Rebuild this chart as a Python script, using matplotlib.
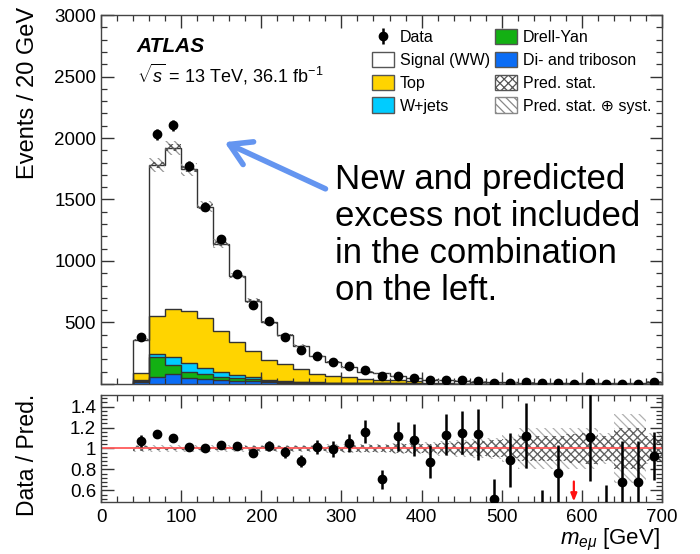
import numpy as np
import matplotlib
matplotlib.use('Agg')
import matplotlib.pyplot as plt
from matplotlib.patches import Patch, FancyArrowPatch
from matplotlib.ticker import MultipleLocator, FixedLocator, FuncFormatter

plt.rcParams['font.family'] = ['Liberation Sans', 'DejaVu Sans']
plt.rcParams['mathtext.fontset'] = 'custom'
plt.rcParams['mathtext.rm'] = 'Liberation Sans'
plt.rcParams['mathtext.it'] = 'Liberation Sans:italic'
plt.rcParams['mathtext.bf'] = 'Liberation Sans:bold'
plt.rcParams['hatch.linewidth'] = 0.9

# ---------------- data ----------------
bin_edges = np.arange(40, 701, 20)          # m_emu bins [GeV]
centers = 0.5 * (bin_edges[:-1] + bin_edges[1:])

diboson = [18, 60, 85, 46, 42, 33, 27, 23, 15, 12, 10, 8, 7, 6, 5, 4, 3.5, 3,
           1.5, 1.3, 1.2, 1.0, 0.9, 0.8, 0.7, 0.6, 0.6, 0.5, 0.4, 0.4, 0.3, 0.3, 1.0]
drellyan = [10, 156, 66, 51, 42, 27, 23, 19, 6, 5, 4, 3, 2, 1.5, 1.2, 1, 0.8, 0.7,
            0.3, 0.3, 0.2, 0.2, 0.2, 0.1, 0.1, 0.1, 0.1, 0.1, 0.1, 0.1, 0.1, 0.1, 0.2]
wjets = [2, 27, 65, 72, 46, 39, 24, 16, 9, 6, 4, 3, 2, 2, 1.5, 1.2, 1, 0.8,
         0.3, 0.3, 0.2, 0.2, 0.2, 0.1, 0.1, 0.1, 0.1, 0.1, 0.1, 0.1, 0.1, 0.1, 0.2]
top = [60, 306, 390, 427, 406, 329, 268, 213, 169, 141, 105, 69, 52, 45, 34, 30, 23, 21,
       2.5, 2.2, 2.0, 1.6, 1.4, 1.2, 1.0, 0.9, 0.9, 0.7, 0.6, 0.5, 0.4, 0.4, 1.5]
signal = [270, 1231, 1314, 1151, 905, 714, 534, 405, 301, 231, 189, 142, 118, 84.5, 57.3,
          51.8, 32.7, 22.5, 30.9, 25.9, 24.2, 16.4, 12.6, 11.3, 9.7, 8.3, 8.8, 5.6, 5.1,
          4.1, 3.5, 3.5, 15.4]
data = [386, 2030, 2103, 1773, 1441, 1177, 895, 644, 512, 380, 275, 228, 180, 146, 115,
        62, 68, 52, 31, 34, 32, 22, 8, 12, 13, 4, 8, 0, 7, 2, 3, 3, 17]
# relative uncertainty of the prediction (half-widths)
rel_stat = [0.02, 0.015, 0.015, 0.015, 0.015, 0.015, 0.015, 0.02, 0.02, 0.02, 0.02, 0.025,
            0.025, 0.03, 0.03, 0.035, 0.04, 0.04, 0.045, 0.05, 0.06, 0.07, 0.08, 0.09, 0.12,
            0.12, 0.12, 0.14, 0.15, 0.12, 0.2, 0.2, 0.12]
rel_syst = [0.035, 0.03, 0.03, 0.03, 0.03, 0.03, 0.03, 0.03, 0.03, 0.035, 0.035, 0.035,
            0.04, 0.04, 0.04, 0.045, 0.05, 0.05, 0.06, 0.07, 0.08, 0.09, 0.1, 0.13, 0.2,
            0.2, 0.2, 0.2, 0.2, 0.15, 0.33, 0.33, 0.15]

components = [  # bottom to top
    ("Di- and triboson", diboson, "#0a6cf5"),
    ("Drell-Yan", drellyan, "#13b013"),
    ("W+jets", wjets, "#00ccff"),
    ("Top", top, "#ffd400"),
    ("Signal (WW)", signal, "#ffffff"),
]

total = np.sum([np.asarray(c[1], float) for c in components], axis=0)
data_arr = np.asarray(data, float)
stat = np.asarray(rel_stat)
syst = np.asarray(rel_syst)

# ---------------- figure ----------------
fig = plt.figure(figsize=(7.0, 5.54), dpi=100)
ax = fig.add_axes([0.1443, 0.3069, 0.8014, 0.6660])
ax2 = fig.add_axes([0.1443, 0.0939, 0.8014, 0.1931])

edge_col = '#333333'
cum = np.zeros(len(centers))
for name, vals, col in components:
    v = np.asarray(vals, float)
    ax.stairs(cum + v, bin_edges, baseline=cum.copy(), fill=True, color=col, zorder=1)
    cum = cum + v
cum = np.zeros(len(centers))
for name, vals, col in components:
    cum = cum + np.asarray(vals, float)
    ax.stairs(cum, bin_edges, baseline=0, color=edge_col, lw=1.0, zorder=2)

# prediction bands in main panel
ax.bar(centers, 2 * total * syst, bottom=total * (1 - syst), width=20,
       facecolor='none', edgecolor='#999999', linewidth=0, hatch='\\\\\\\\', zorder=2.2)
ax.bar(centers, 2 * total * stat, bottom=total * (1 - stat), width=20,
       facecolor='none', edgecolor='#555555', linewidth=0, hatch='xxxx', zorder=2.3)

dat = ax.errorbar(centers, data_arr, yerr=np.sqrt(data_arr), fmt='o', color='black',
                  ms=6, elinewidth=1.8, capsize=0, zorder=4)

ax.set_xlim(0, 700)
ax.set_ylim(0, 3000)

# ratio panel
ratio = data_arr / total
rerr = np.sqrt(data_arr) / total
ax2.bar(centers, 2 * syst, bottom=1 - syst, width=20, facecolor='none',
        edgecolor='#b0b0b0', linewidth=0, hatch='\\\\\\\\', zorder=1)
ax2.bar(centers, 2 * stat, bottom=1 - stat, width=20, facecolor='none',
        edgecolor='#606060', linewidth=0, hatch='xxxx', zorder=1.2)
ax2.axhline(1.0, color='#ff5a5a', lw=1.3, zorder=2)
mask = data_arr > 0
ax2.errorbar(centers[mask], ratio[mask], yerr=rerr[mask], fmt='o', color='black',
             ms=6, elinewidth=1.8, capsize=0, zorder=4)
for c in centers[~mask]:
    ax2.annotate('', xy=(c, 0.495), xytext=(c, 0.685),
                 arrowprops=dict(arrowstyle='-|>,head_length=0.45,head_width=0.18',
                                 color='#ff1010', lw=1.6, shrinkA=0, shrinkB=0))
ax2.set_xlim(0, 700)
ax2.set_ylim(0.49, 1.51)

# ---------------- axes styling ----------------
for a in (ax, ax2):
    for s in a.spines.values():
        s.set_color('#444444')
        s.set_linewidth(1.0)
    a.tick_params(which='both', direction='in', top=True, right=True,
                  labelsize=13.5, color='#333333')
    a.tick_params(which='major', length=9, width=1.0)
    a.tick_params(which='minor', length=4.5, width=0.9)
    a.xaxis.set_major_locator(MultipleLocator(100))
    a.xaxis.set_minor_locator(MultipleLocator(20))

ax.tick_params(labelbottom=False)
ax.yaxis.set_major_locator(MultipleLocator(500))
ax.yaxis.set_minor_locator(MultipleLocator(100))
ax.yaxis.set_major_formatter(FuncFormatter(lambda v, p: '' if v == 0 else f'{v:g}'))

ax2.yaxis.set_major_locator(FixedLocator([0.6, 0.8, 1.0, 1.2, 1.4]))
ax2.yaxis.set_minor_locator(MultipleLocator(0.04))
ax2.yaxis.set_major_formatter(FuncFormatter(lambda v, p: f'{v:g}'))
ax2.tick_params(axis='x', pad=5)

fig.text(0.040, 0.988, 'Events / 20 GeV', rotation=90, ha='center', va='top', fontsize=17)
fig.text(0.040, 0.290, 'Data / Pred.', rotation=90, ha='center', va='top', fontsize=16.5)
fig.text(0.943, 0.025, r'$m_{e\mu}$ [GeV]', ha='right', va='center', fontsize=16)

# labels
ax.text(0.064, 0.915, 'ATLAS', transform=ax.transAxes, fontsize=15,
        fontweight='bold', fontstyle='italic', va='center', ha='left')
ax.text(0.064, 0.84, r'$\sqrt{s}$ = 13 TeV, 36.1 fb$^{-1}$', transform=ax.transAxes,
        fontsize=13, va='center', ha='left')

# legend
handles = [dat,
           Patch(facecolor=components[4][2], edgecolor='#555555', lw=1.0),
           Patch(facecolor=components[3][2], edgecolor='#555555', lw=1.0),
           Patch(facecolor=components[2][2], edgecolor='#555555', lw=1.0),
           Patch(facecolor=components[1][2], edgecolor='#555555', lw=1.0),
           Patch(facecolor=components[0][2], edgecolor='#555555', lw=1.0),
           Patch(facecolor='white', edgecolor='#555555', hatch='xxxx', lw=1.0),
           Patch(facecolor='white', edgecolor='#888888', hatch='\\\\\\\\', lw=1.0)]
labels = ['Data', 'Signal (WW)', 'Top', 'W+jets', 'Drell-Yan', 'Di- and triboson',
          'Pred. stat.', 'Pred. stat. \u2295 syst.']
ax.legend(handles, labels, ncol=2, loc='upper left', bbox_to_anchor=(0.483, 0.962),
          frameon=False, fontsize=11.5, handlelength=1.4, handleheight=1.1,
          columnspacing=0.3, labelspacing=0.42, handletextpad=0.35,
          borderpad=0, borderaxespad=0)

# annotation
fig.text(335 / 700, 1 - 163 / 554,
         'New and predicted\nexcess not included\nin the combination\non the left.',
         ha='left', va='top', fontsize=25, linespacing=1.16, color='black')
arrow = FancyArrowPatch((328 / 700, 1 - 190 / 554), (222 / 700, 1 - 141 / 554),
                        transform=fig.transFigure, arrowstyle='->,head_length=0.75,head_width=0.45',
                        mutation_scale=20, color='#6495f0', lw=4, zorder=10)
fig.add_artist(arrow)

fig.savefig('out.png', dpi=100)
